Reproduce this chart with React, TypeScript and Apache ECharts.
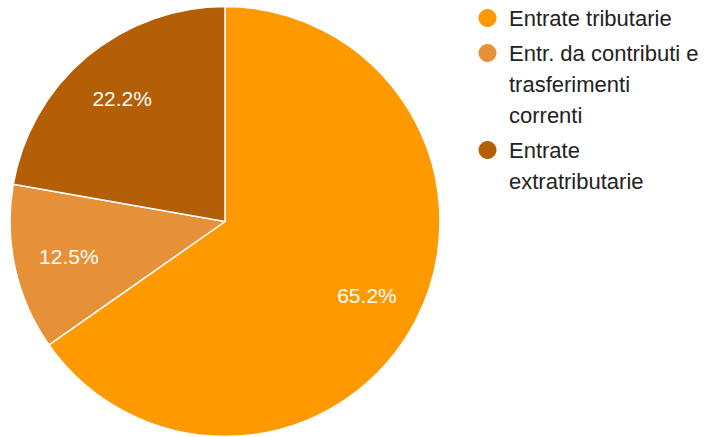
import React, { useEffect, useRef } from "react";
import * as echarts from "echarts";

const categories = ["Entrate tributarie", "Entr. da contributi e trasferimenti correnti", "Entrate extratributarie"];
const legendLines = [["Entrate tributarie"], ["Entr. da contributi e", "trasferimenti", "correnti"], ["Entrate", "extratributarie"]];
const values = [65.2, 12.5, 22.2];
const colors = ["#ff9900", "#e69138", "#b45f06"];

const W = 707;
const H = 437;
const CX = 225;
const CY = 221.5;
const R = 215;
const LEG_X = 487.5;
const LEG_TEXT_X = 509;
const LEG_FIRST_Y = 18;
const LINE_H = 31;
const ITEM_GAP = 4;
const FONT = "'Liberation Sans', Arial, sans-serif";

export default function App() {
  const ref = useRef<HTMLDivElement>(null);
  useEffect(() => {
    if (!ref.current) return;
    const chart = echarts.init(ref.current, null, { renderer: "svg" });
    const data = categories.map((name, i) => ({ name, value: values[i], itemStyle: { color: colors[i] } }));

    const graphics: any[] = [];
    let y = LEG_FIRST_Y;
    legendLines.forEach((lines, i) => {
      graphics.push({
        type: "circle",
        shape: { cx: LEG_X, cy: y, r: 9 },
        style: { fill: colors[i] },
      });
      graphics.push({
        type: "text",
        x: LEG_TEXT_X,
        y: y - LINE_H / 2,
        style: {
          text: lines.join("\n"),
          fill: "#222",
          font: `22px ${FONT}`,
          lineHeight: LINE_H,
          verticalAlign: "top",
          align: "left",
        },
      });
      y += lines.length * LINE_H + ITEM_GAP;
    });

    chart.setOption({
      animation: false,
      backgroundColor: "#ffffff",
      series: [
        {
          type: "pie",
          center: [CX, CY],
          radius: [0, R],
          startAngle: 90,
          clockwise: true,
          silent: true,
          data,
          label: { show: false },
          labelLine: { show: false },
          itemStyle: { borderColor: "#ffffff", borderWidth: 1.5 },
        },
        {
          type: "pie",
          center: [CX, CY],
          radius: [100, R - 1],
          startAngle: 90,
          clockwise: true,
          silent: true,
          data: data.map((d) => ({ name: d.name, value: d.value, itemStyle: { color: "rgba(0,0,0,0)" } })),
          itemStyle: { borderWidth: 0 },
          label: {
            show: true,
            position: "inside",
            color: "#ffffff",
            fontSize: 21,
            fontFamily: FONT,
            formatter: (p: any) => Number(p.value).toFixed(1) + "%",
          },
          labelLine: { show: false },
        },
      ],
      graphic: graphics,
    });
    return () => chart.dispose();
  }, []);
  return <div ref={ref} style={{ position: "fixed", left: 0, top: 0, width: W, height: H }} />;
}
